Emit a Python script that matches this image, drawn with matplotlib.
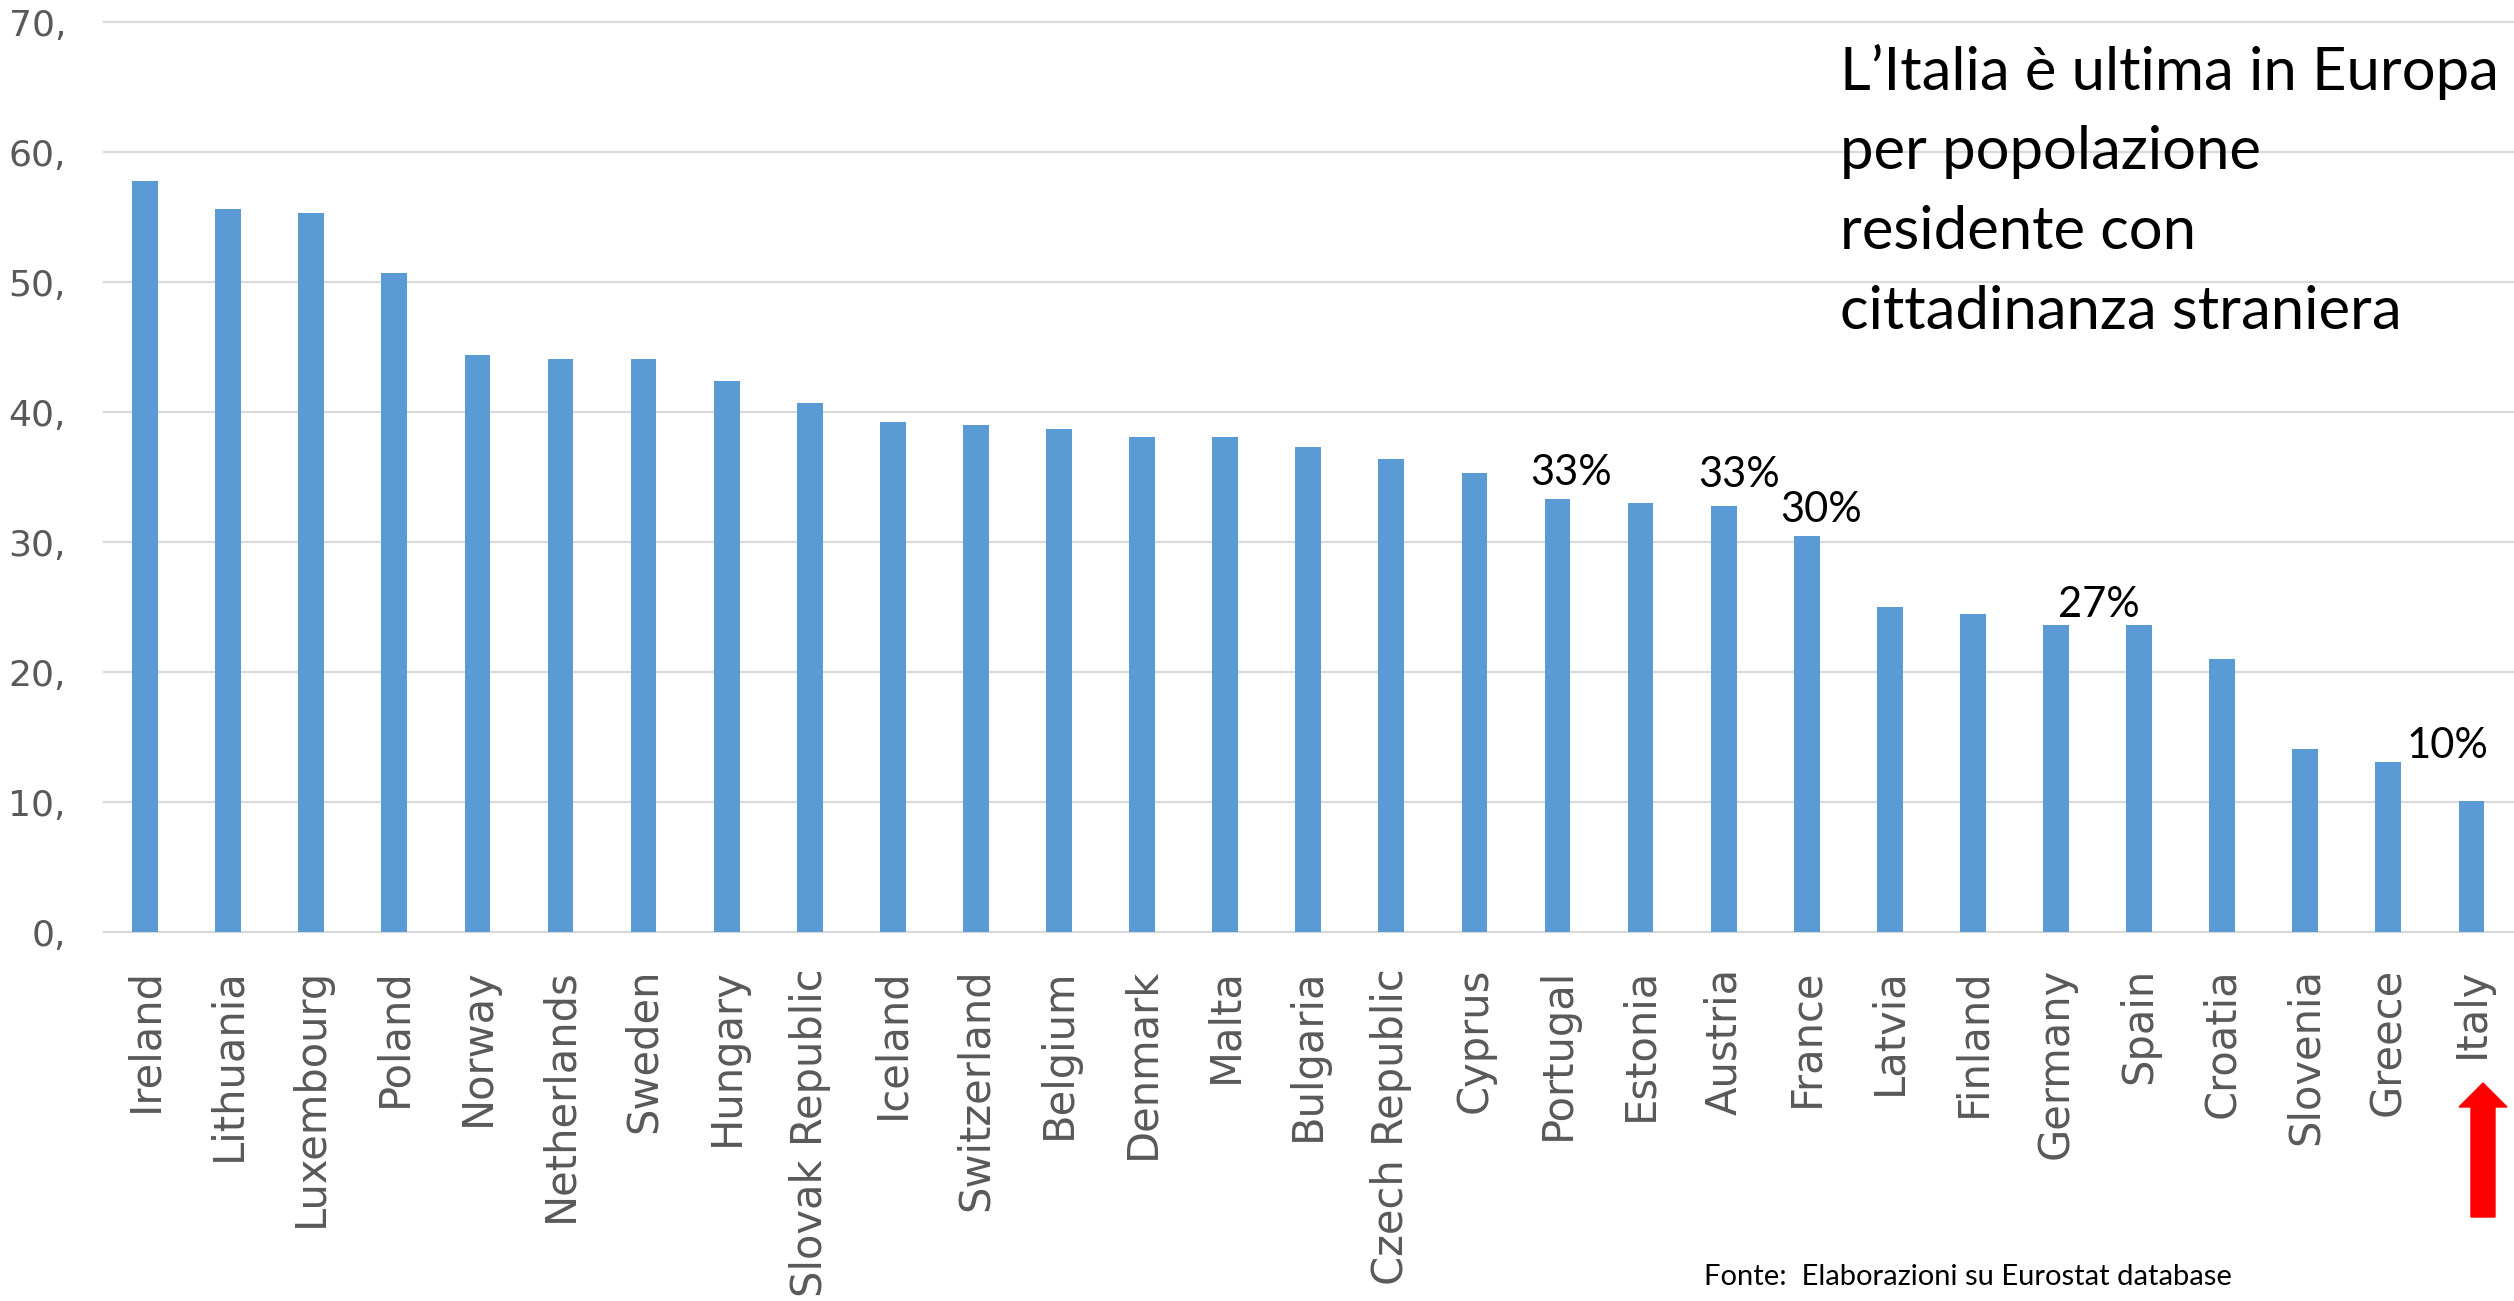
import numpy as np
import matplotlib.pyplot as plt
from matplotlib.patches import FancyArrow

# foreign-citizen share by country (bar heights)
countries = ['Ireland', 'Lithuania', 'Luxembourg', 'Poland', 'Norway', 'Netherlands',
             'Sweden', 'Hungary', 'Slovak Republic', 'Iceland', 'Switzerland', 'Belgium',
             'Denmark', 'Malta', 'Bulgaria', 'Czech Republic', 'Cyprus', 'Portugal',
             'Estonia', 'Austria', 'France', 'Latvia', 'Finland', 'Germany', 'Spain',
             'Croatia', 'Slovenia', 'Greece', 'Italy']
values = [57.8, 55.6, 55.3, 50.7, 44.4, 44.1, 44.1, 42.4, 40.7, 39.2, 39.0, 38.7,
          38.1, 38.1, 37.3, 36.4, 35.3, 33.3, 33.0, 32.8, 30.5, 25.0, 24.5, 23.6,
          23.6, 21.0, 14.1, 13.1, 10.1]
yticks = [0, 10, 20, 30, 40, 50, 60, 70]

callouts = ['33%', '33%', '30%', '27%', '10%']
title_lines = ['L\u2019Italia è ultima in Europa', 'per popolazione',
               'residente con', 'cittadinanza straniera']
source = 'Fonte:  Elaborazioni su Eurostat database'

W, H = 2514, 1301
BLUE = '#5B9BD5'
GREY = '#595959'

fig = plt.figure(figsize=(W / 100, H / 100), dpi=100)
ax = fig.add_axes([103.5 / W, (H - 932) / H, (2513 - 103.5) / W, (932 - 22) / H])

x = np.arange(len(countries))
ax.bar(x, values, width=0.31, color=BLUE, zorder=2)
ax.set_xlim(-0.5, len(countries) - 0.5)
ax.set_ylim(0, 70)

ax.set_yticks(yticks)
ax.set_yticklabels([f'{v},' for v in yticks])
ax.set_xticks(x)
ax.set_xticklabels(countries, rotation=90)
ax.tick_params(axis='y', length=0, pad=27, labelsize=26, labelcolor=GREY)
ax.tick_params(axis='x', length=0, pad=26, labelsize=30, labelcolor=GREY)

ax.yaxis.grid(True, color='#D9D9D9', lw=1.6, zorder=0)
ax.set_axisbelow(True)
for gl in ax.get_ygridlines():
    gl.set_clip_on(False)
for s in ax.spines.values():
    s.set_visible(False)

# percentage callouts: (x in bar units, y in data units)
callout_pos = [(17.16, 34.4), (19.19, 34.2), (20.17, 31.5), (23.52, 24.2), (27.71, 13.4)]
for txt, (cx, cy) in zip(callouts, callout_pos):
    ax.text(cx, cy, txt, ha='center', va='baseline', fontsize=30,
            family='Lato', color='black')

# headline, one line at a time
baselines = [90, 169, 249, 329]
for line, yb in zip(title_lines, baselines):
    fig.text(1840 / W, (H - yb) / H, line, ha='left', va='baseline',
             fontsize=43, family='Lato', color='black')

fig.text(1704 / W, (H - 1285) / H, source, ha='left', va='baseline',
         fontsize=21, family='Lato', color='black')

# red arrow under Italy
arrow = FancyArrow(2483 / W, (H - 1217) / H, 0, (1217 - 1083) / H,
                   width=24 / W, head_width=48 / W, head_length=24 / H,
                   length_includes_head=True, color='#FF0000',
                   transform=fig.transFigure, figure=fig)
fig.add_artist(arrow)

fig.savefig('out.png', dpi=100)
